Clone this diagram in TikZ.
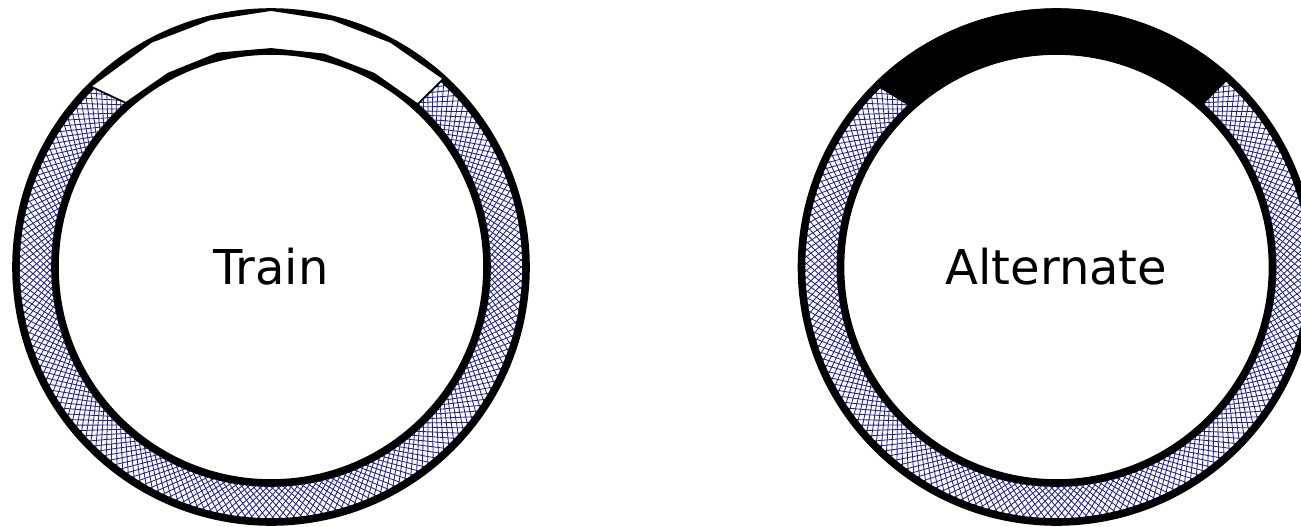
\documentclass[tikz,border=0pt]{standalone}
\usepackage{fontspec}
\setmainfont{DejaVu Sans}
\usepackage{xcolor}
\definecolor{hatchblue}{RGB}{30,30,150}

\begin{document}
\begin{tikzpicture}[
    x=0.5pt, y=0.5pt,
    rim/.style={draw, line width=3.8pt},
    hatch/.style={draw=hatchblue, line width=0.42pt},
    gap/.style={draw, fill=white, line width=0.9pt, line join=miter},
    label/.style={font=\fontsize{24}{28}\selectfont, inner sep=0pt}
]
\useasboundingbox (0,0) rectangle (1301,526);
\coordinate (lc) at (271,259);
\coordinate (rc) at (1056.5,259);

% hatched bands
\foreach \c in {lc, rc} {
  \begin{scope}[even odd rule]
    \clip (\c) circle[radius=255] (\c) circle[radius=216];
    \foreach \a in {0,1.6,...,358.5} {
      \draw[hatch] ([shift={(\a:210)}]\c) -- ([shift={(\a+11.5:261)}]\c);
      \draw[hatch] ([shift={(\a:210)}]\c) -- ([shift={(\a-11.5:261)}]\c);
    }
  \end{scope}
}

% black segment of the right ring
\fill ([shift={(47.5:258.5)}]rc) arc[start angle=47.5, end angle=135, radius=258.5]
      -- ([shift={(132:212.5)}]rc) arc[start angle=132, end angle=48, radius=212.5] -- cycle;

% rims
\foreach \c in {lc, rc} {
  \draw[rim] (\c) circle[radius=255];
  \draw[rim] (\c) circle[radius=216];
}

% white segment of the left ring
\draw[gap] ([shift={(47.5:255.5)}]lc) -- ([shift={(62:255)}]lc) -- ([shift={(76:255)}]lc)
      -- ([shift={(90:257)}]lc) -- ([shift={(104:255)}]lc) -- ([shift={(118:255)}]lc)
      -- ([shift={(135:255.5)}]lc)
      -- ([shift={(131.5:219)}]lc) -- ([shift={(118:219)}]lc) -- ([shift={(104:220)}]lc)
      -- ([shift={(90:218)}]lc) -- ([shift={(76:219)}]lc) -- ([shift={(62:219)}]lc)
      -- ([shift={(48:219)}]lc) -- cycle;

\node[label] (train) at (lc) {Train};
\node[label] (alternate) at (rc) {Alternate};
\end{tikzpicture}
\end{document}
